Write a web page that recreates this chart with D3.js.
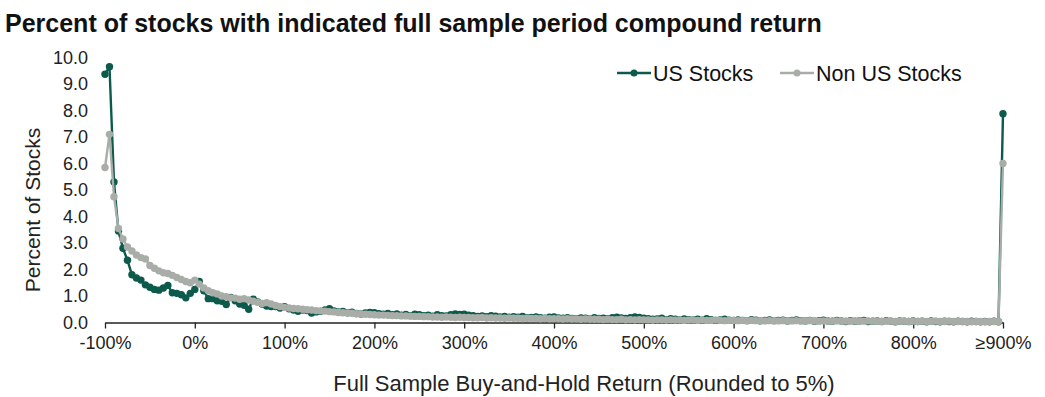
<!DOCTYPE html>
<html>
<head>
<meta charset="utf-8">
<script src="https://cdn.jsdelivr.net/npm/d3@7"></script>
<style>
  body { margin: 0; background: #fff; }
  svg { font-family: "Liberation Sans", Arial, sans-serif; }
</style>
</head>
<body>
<div id="chart"></div>
<script>
// return buckets, -100% .. >=900% in 5% steps
const returns = d3.range(-100, 905, 5);
const xTicks = [-100, 0, 100, 200, 300, 400, 500, 600, 700, 800, 900];
const xTickLabels = ["-100%", "0%", "100%", "200%", "300%", "400%", "500%", "600%", "700%", "800%", "\u2265900%"];
const yTicks = [0, 1, 2, 3, 4, 5, 6, 7, 8, 9, 10];

const usStocks = [
  9.37, 9.65, 5.3, 3.45, 2.8, 2.35, 1.8, 1.68, 1.6, 1.42,
  1.33, 1.25, 1.22, 1.3, 1.4, 1.12, 1.1, 1.05, 0.93, 1.1,
  1.25, 1.55, 1.2, 0.9, 0.9, 0.82, 0.8, 0.68, 0.95, 0.82,
  0.7, 0.65, 0.5, 0.88, 0.78, 0.7, 0.62, 0.6, 0.6, 0.55,
  0.6,
  0.52, 0.47, 0.42, 0.47, 0.45, 0.36, 0.4, 0.42, 0.47, 0.52,
  0.44, 0.4, 0.42, 0.37, 0.39, 0.34, 0.32, 0.36, 0.38, 0.37,
  0.33, 0.31, 0.34, 0.29, 0.32, 0.28, 0.3, 0.26, 0.31, 0.29,
  0.26, 0.28, 0.24, 0.29, 0.26, 0.25, 0.29, 0.32, 0.3, 0.31,
  0.28, 0.26, 0.23, 0.25, 0.22, 0.26, 0.24, 0.21, 0.23, 0.2,
  0.22, 0.2, 0.23, 0.18, 0.19, 0.21, 0.18, 0.16, 0.2, 0.21,
  0.17, 0.16, 0.18, 0.15, 0.14, 0.17, 0.16, 0.13, 0.18, 0.15,
  0.16, 0.14, 0.18, 0.2, 0.17, 0.15, 0.18, 0.21, 0.19, 0.16,
  0.14, 0.12, 0.13, 0.16, 0.11, 0.14, 0.12, 0.1, 0.13, 0.11,
  0.1, 0.12, 0.09, 0.14, 0.11, 0.08, 0.1, 0.12, 0.09, 0.08,
  0.1, 0.08, 0.07, 0.11, 0.09, 0.06, 0.08, 0.1, 0.07, 0.08,
  0.09, 0.06, 0.08, 0.1, 0.07, 0.06, 0.08, 0.05, 0.07, 0.09,
  0.06, 0.05, 0.08, 0.06, 0.04, 0.07, 0.05, 0.06, 0.08, 0.04,
  0.05, 0.06, 0.04, 0.07, 0.05, 0.03, 0.06, 0.05, 0.04, 0.06,
  0.04, 0.05, 0.03, 0.06, 0.04, 0.03, 0.05, 0.04, 0.03, 0.05,
  0.04, 0.03, 0.05, 0.04, 0.03, 0.04, 0.03, 0.05, 0.03,
  7.88
];

const nonUsStocks = [
  5.85, 7.1, 4.75, 3.55, 3.15, 2.85, 2.7, 2.55, 2.45, 2.4,
  2.15, 2.05, 1.95, 1.88, 1.85, 1.78, 1.7, 1.62, 1.55, 1.5,
  1.6, 1.45, 1.3, 1.2, 1.12, 1.08, 1.0, 0.97, 0.93, 0.92,
  0.88, 0.9, 0.85, 0.8, 0.76, 0.72, 0.75, 0.7, 0.64, 0.6,
  0.57,
  0.55, 0.53, 0.52, 0.5, 0.48, 0.47, 0.45, 0.44, 0.43, 0.41,
  0.4, 0.38, 0.37, 0.36, 0.35, 0.33, 0.32, 0.31, 0.3, 0.29,
  0.28, 0.28, 0.27, 0.26, 0.26, 0.25, 0.25, 0.24, 0.23, 0.23,
  0.22, 0.22, 0.21, 0.21, 0.2, 0.21, 0.2, 0.19, 0.2, 0.19,
  0.19, 0.18, 0.18, 0.19, 0.17, 0.18, 0.17, 0.17, 0.16, 0.17,
  0.16, 0.16, 0.15, 0.16, 0.15, 0.15, 0.14, 0.15, 0.14, 0.14,
  0.14, 0.13, 0.14, 0.13, 0.13, 0.12, 0.13, 0.12, 0.12, 0.12,
  0.11, 0.12, 0.11, 0.11, 0.12, 0.1, 0.11, 0.1, 0.11, 0.1,
  0.1, 0.09, 0.1, 0.1, 0.09, 0.1, 0.09, 0.09, 0.08, 0.09,
  0.09, 0.08, 0.09, 0.08, 0.08, 0.09, 0.08, 0.07, 0.08, 0.08,
  0.07, 0.08, 0.07, 0.08, 0.07, 0.07, 0.06, 0.07, 0.07, 0.06,
  0.07, 0.06, 0.06, 0.07, 0.06, 0.06, 0.07, 0.06, 0.05, 0.06,
  0.06, 0.05, 0.06, 0.06, 0.05, 0.05, 0.06, 0.05, 0.05, 0.06,
  0.05, 0.05, 0.04, 0.05, 0.05, 0.04, 0.05, 0.05, 0.04, 0.05,
  0.04, 0.05, 0.04, 0.04, 0.05, 0.04, 0.04, 0.05, 0.04, 0.04,
  0.04, 0.04, 0.03, 0.04, 0.04, 0.03, 0.04, 0.04, 0.04,
  6.0
];

const series = [
  { name: "US Stocks", values: usStocks, color: "#0b5a4c" },
  { name: "Non US Stocks", values: nonUsStocks, color: "#a9ada7" }
];

const W = 1045, H = 397;
const margin = { top: 57.5, right: 42, bottom: 74.5, left: 105 },
  width = W - margin.left - margin.right,
  height = H - margin.top - margin.bottom;

const root = d3
  .select("#chart")
  .append("svg")
  .attr("width", W)
  .attr("height", H);

root
  .append("text")
  .attr("x", 5)
  .attr("y", 32)
  .attr("font-size", 25)
  .attr("font-weight", "bold")
  .attr("fill", "#111")
  .text("Percent of stocks with indicated full sample period compound return");

const svg = root
  .append("g")
  .attr("transform", `translate(${margin.left},${margin.top})`);

const x = d3.scaleLinear().domain([-100, 900]).range([0, width]);
const y = d3.scaleLinear().domain([0, 10]).range([height, 0]);

// x axis
const xAxis = svg
  .append("g")
  .attr("transform", `translate(0, ${height})`)
  .call(
    d3
      .axisBottom(x)
      .tickValues(xTicks)
      .tickSizeInner(6)
      .tickSizeOuter(0)
      .tickPadding(8)
      .tickFormat((d, i) => xTickLabels[i])
  );
xAxis.select(".domain").attr("stroke", "#222").attr("stroke-width", 1.3);
xAxis.selectAll(".tick line").attr("stroke", "#222").attr("stroke-width", 1.3);
xAxis.selectAll("text").attr("font-size", 18).attr("fill", "#222");

// y axis (labels only)
const yAxis = svg
  .append("g")
  .call(
    d3
      .axisLeft(y)
      .tickValues(yTicks)
      .tickSize(0)
      .tickPadding(17)
      .tickFormat(d3.format(".1f"))
  );
yAxis.select(".domain").remove();
yAxis.selectAll("text").attr("font-size", 18).attr("fill", "#222");

const line = d3
  .line()
  .x((d, i) => x(returns[i]))
  .y((d) => y(d));

for (const s of series) {
  const g = svg.append("g");
  g.append("path")
    .datum(s.values)
    .attr("fill", "none")
    .attr("stroke", s.color)
    .attr("stroke-width", 2.4)
    .attr("stroke-linejoin", "round")
    .attr("d", line);
  g.selectAll("circle")
    .data(s.values)
    .join("circle")
    .attr("cx", (d, i) => x(returns[i]))
    .attr("cy", (d) => y(d))
    .attr("r", 3.7)
    .attr("fill", s.color);
}

// legend
const legendX = [617, 780];
series.forEach((s, i) => {
  const lg = root.append("g").attr("transform", `translate(${legendX[i]}, 73)`);
  lg.append("line")
    .attr("x1", 0).attr("x2", 34)
    .attr("y1", 0).attr("y2", 0)
    .attr("stroke", s.color).attr("stroke-width", 2.4);
  lg.append("circle").attr("cx", 17).attr("cy", 0).attr("r", 3.5).attr("fill", s.color);
  lg.append("text")
    .attr("x", 36)
    .attr("y", 0)
    .attr("dy", "0.35em")
    .attr("font-size", 21.5)
    .attr("fill", "#111")
    .text(s.name);
});

// axis titles
root
  .append("text")
  .attr("text-anchor", "middle")
  .attr("x", 584)
  .attr("y", 391)
  .attr("font-size", 22)
  .attr("fill", "#222")
  .text("Full Sample Buy-and-Hold Return (Rounded to 5%)");

root
  .append("text")
  .attr("text-anchor", "middle")
  .attr("transform", "translate(40, 210) rotate(-90)")
  .attr("font-size", 21)
  .attr("fill", "#222")
  .text("Percent of Stocks");
</script>
</body>
</html>
